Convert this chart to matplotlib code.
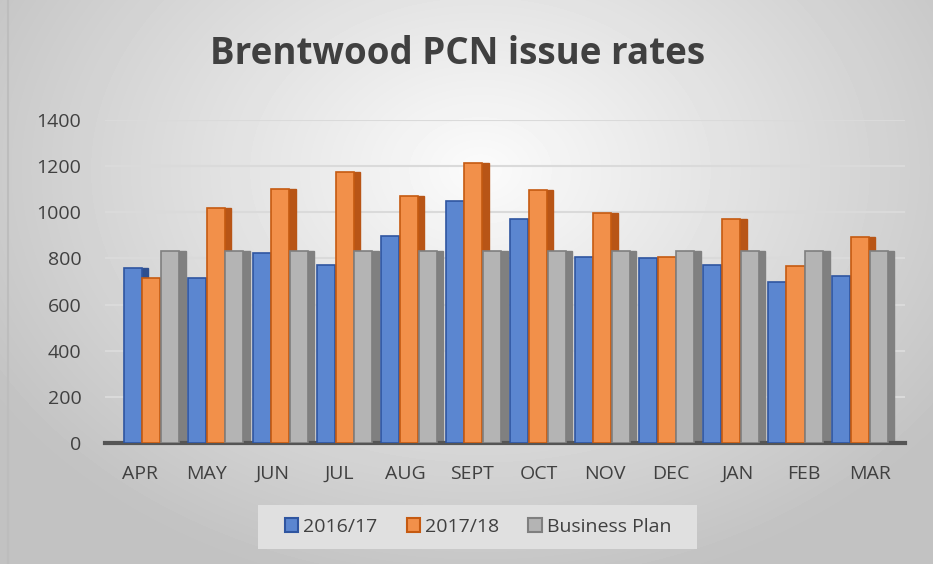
import numpy as np
import matplotlib.pyplot as plt
from matplotlib.patches import Rectangle

months = ['APR', 'MAY', 'JUN', 'JUL', 'AUG', 'SEPT', 'OCT', 'NOV', 'DEC', 'JAN', 'FEB', 'MAR']
issues_1617 = [757, 714, 825, 772, 897, 1050, 970, 808, 801, 770, 699, 725]
issues_1718 = [717, 1017, 1100, 1173, 1071, 1212, 1097, 996, 808, 970, 769, 894]
business_plan = [833] * 12

series_names = ['2016/17', '2017/18', 'Business Plan']
face_colors = ['#5b86d0', '#f2904a', '#b4b4b4']
edge_colors = ['#2f55a0', '#c55a11', '#7f7f7f']
side_colors = ['#2e4f8f', '#b85516', '#808080']

W, H = 933, 564
fig = plt.figure(figsize=(W / 100, H / 100), dpi=100)

# radial grey background like the Excel chart area
bg = fig.add_axes([0, 0, 1, 1])
yy, xx = np.mgrid[0:H, 0:W]
r = np.sqrt(((xx - 480) / 560.0) ** 2 + ((yy - 170) / 420.0) ** 2)
shade = np.clip(0.985 - 0.22 * r, 0.76, 0.985)
bg.imshow(shade, cmap='gray', vmin=0, vmax=1, extent=[0, W, H, 0], aspect='auto')
bg.plot([8, 8], [0, H], color='#bdbdbd', lw=1.5)
bg.set_xlim(0, W)
bg.set_ylim(H, 0)
bg.axis('off')

# legend box
bg.add_patch(Rectangle((258, 505), 439, 44, facecolor='#e0e0e0', edgecolor='none'))

def px(x0, y0, x1, y1):
    return [x0 / W, 1 - y1 / H, (x1 - x0) / W, (y1 - y0) / H]

ax = fig.add_axes(px(105, 120, 905, 443))
ax.patch.set_alpha(0)

x = np.arange(len(months))
bw = 0.28
data = [issues_1617, issues_1718, business_plan]
offsets = [-0.3, -0.01, 0.28]
for vals, off, fc, ec, sc in zip(data, offsets, face_colors, edge_colors, side_colors):
    # side face for a bit of depth
    ax.bar(x + off + bw * 0.5, vals, width=0.1, color=sc, edgecolor=sc,
           align='edge', zorder=2)
    ax.bar(x + off, vals, width=bw, color=fc, edgecolor=ec, linewidth=1.2, zorder=3)

# 3D perspective: category labels sit on a slightly wider spacing than the bars
ax.set_xlim(-0.73, 11.69)
ax.set_ylim(0, 1400)
ax.set_yticks(range(0, 1401, 200))
ax.set_xticks(x * 1.031 - 0.186)
ax.set_xticklabels(months)
ax.grid(axis='y', color='#dadada', lw=1.5, zorder=0)
ax.set_axisbelow(True)
for s in ['top', 'right', 'left']:
    ax.spines[s].set_visible(False)
ax.spines['bottom'].set_color('#555555')
ax.spines['bottom'].set_linewidth(3)
ax.tick_params(length=0, labelsize=14, labelcolor='#404040')
ax.tick_params(axis='x', pad=16)
ax.tick_params(axis='y', pad=17)
for lab in ax.get_xticklabels() + ax.get_yticklabels():
    lab.set_fontfamily('Open Sans')

fig.text(458 / W, 1 - 54 / H, 'Brentwood PCN issue rates', ha='center', va='center',
         fontsize=26.5, fontweight='bold', color='#404040', family='Open Sans')

handles = [Rectangle((0, 0), 1, 1, facecolor=fc, edgecolor=ec, lw=1.5)
           for fc, ec in zip(face_colors, edge_colors)]
fig.legend(handles, series_names, loc='center', bbox_to_anchor=(478 / W, 1 - 527 / H),
           ncol=3, frameon=False, prop={'family': 'Open Sans', 'size': 14},
           handlelength=0.7, handleheight=0.7, handletextpad=0.25, columnspacing=1.5,
           labelcolor='#404040')

fig.savefig('out.png', dpi=100)
